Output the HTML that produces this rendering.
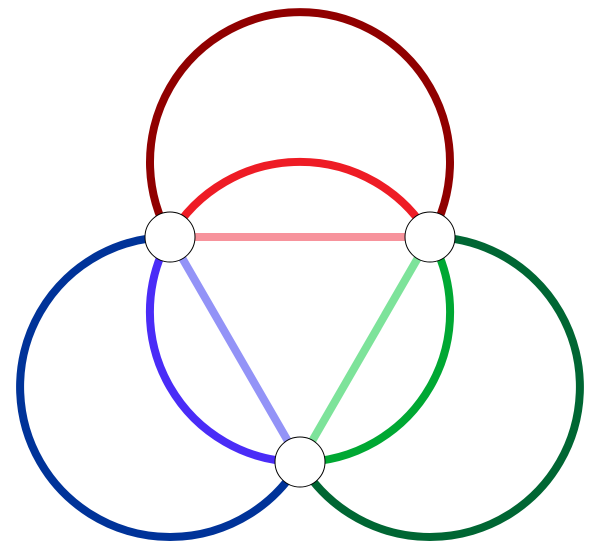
<!DOCTYPE html>
<html>
<head>
<meta charset="utf-8">
<style>
html,body{margin:0;padding:0;background:#fff;}
svg{display:block;}
</style>
</head>
<body>
<svg width="600" height="550" viewBox="0 0 600 550" xmlns="http://www.w3.org/2000/svg">
  <g fill="none" stroke-width="8">
    <!-- outer arcs -->
    <path d="M170,237 A150,150 0 1 1 430,237" stroke="#900000"/>
    <path d="M170,237 A150,150 0 1 0 300,462" stroke="#003399"/>
    <path d="M430,237 A150,150 0 1 1 300,462" stroke="#006633"/>
    <!-- inner arcs -->
    <path d="M170,237 A150,150 0 0 1 430,237" stroke="#ee1c25"/>
    <path d="M170,237 A150,150 0 0 0 300,462" stroke="#4a2cf7"/>
    <path d="M430,237 A150,150 0 0 1 300,462" stroke="#00a833"/>
    <!-- straight lines -->
    <line x1="170" y1="237" x2="430" y2="237" stroke="#f7939c"/>
    <line x1="170" y1="237" x2="300" y2="462" stroke="#9393f7"/>
    <line x1="430" y1="237" x2="300" y2="462" stroke="#7de39a"/>
  </g>
  <g fill="#fff" stroke="#000" stroke-width="1">
    <circle cx="170" cy="237" r="25"/>
    <circle cx="430" cy="237" r="25"/>
    <circle cx="300" cy="462" r="25"/>
  </g>
</svg>
</body>
</html>
